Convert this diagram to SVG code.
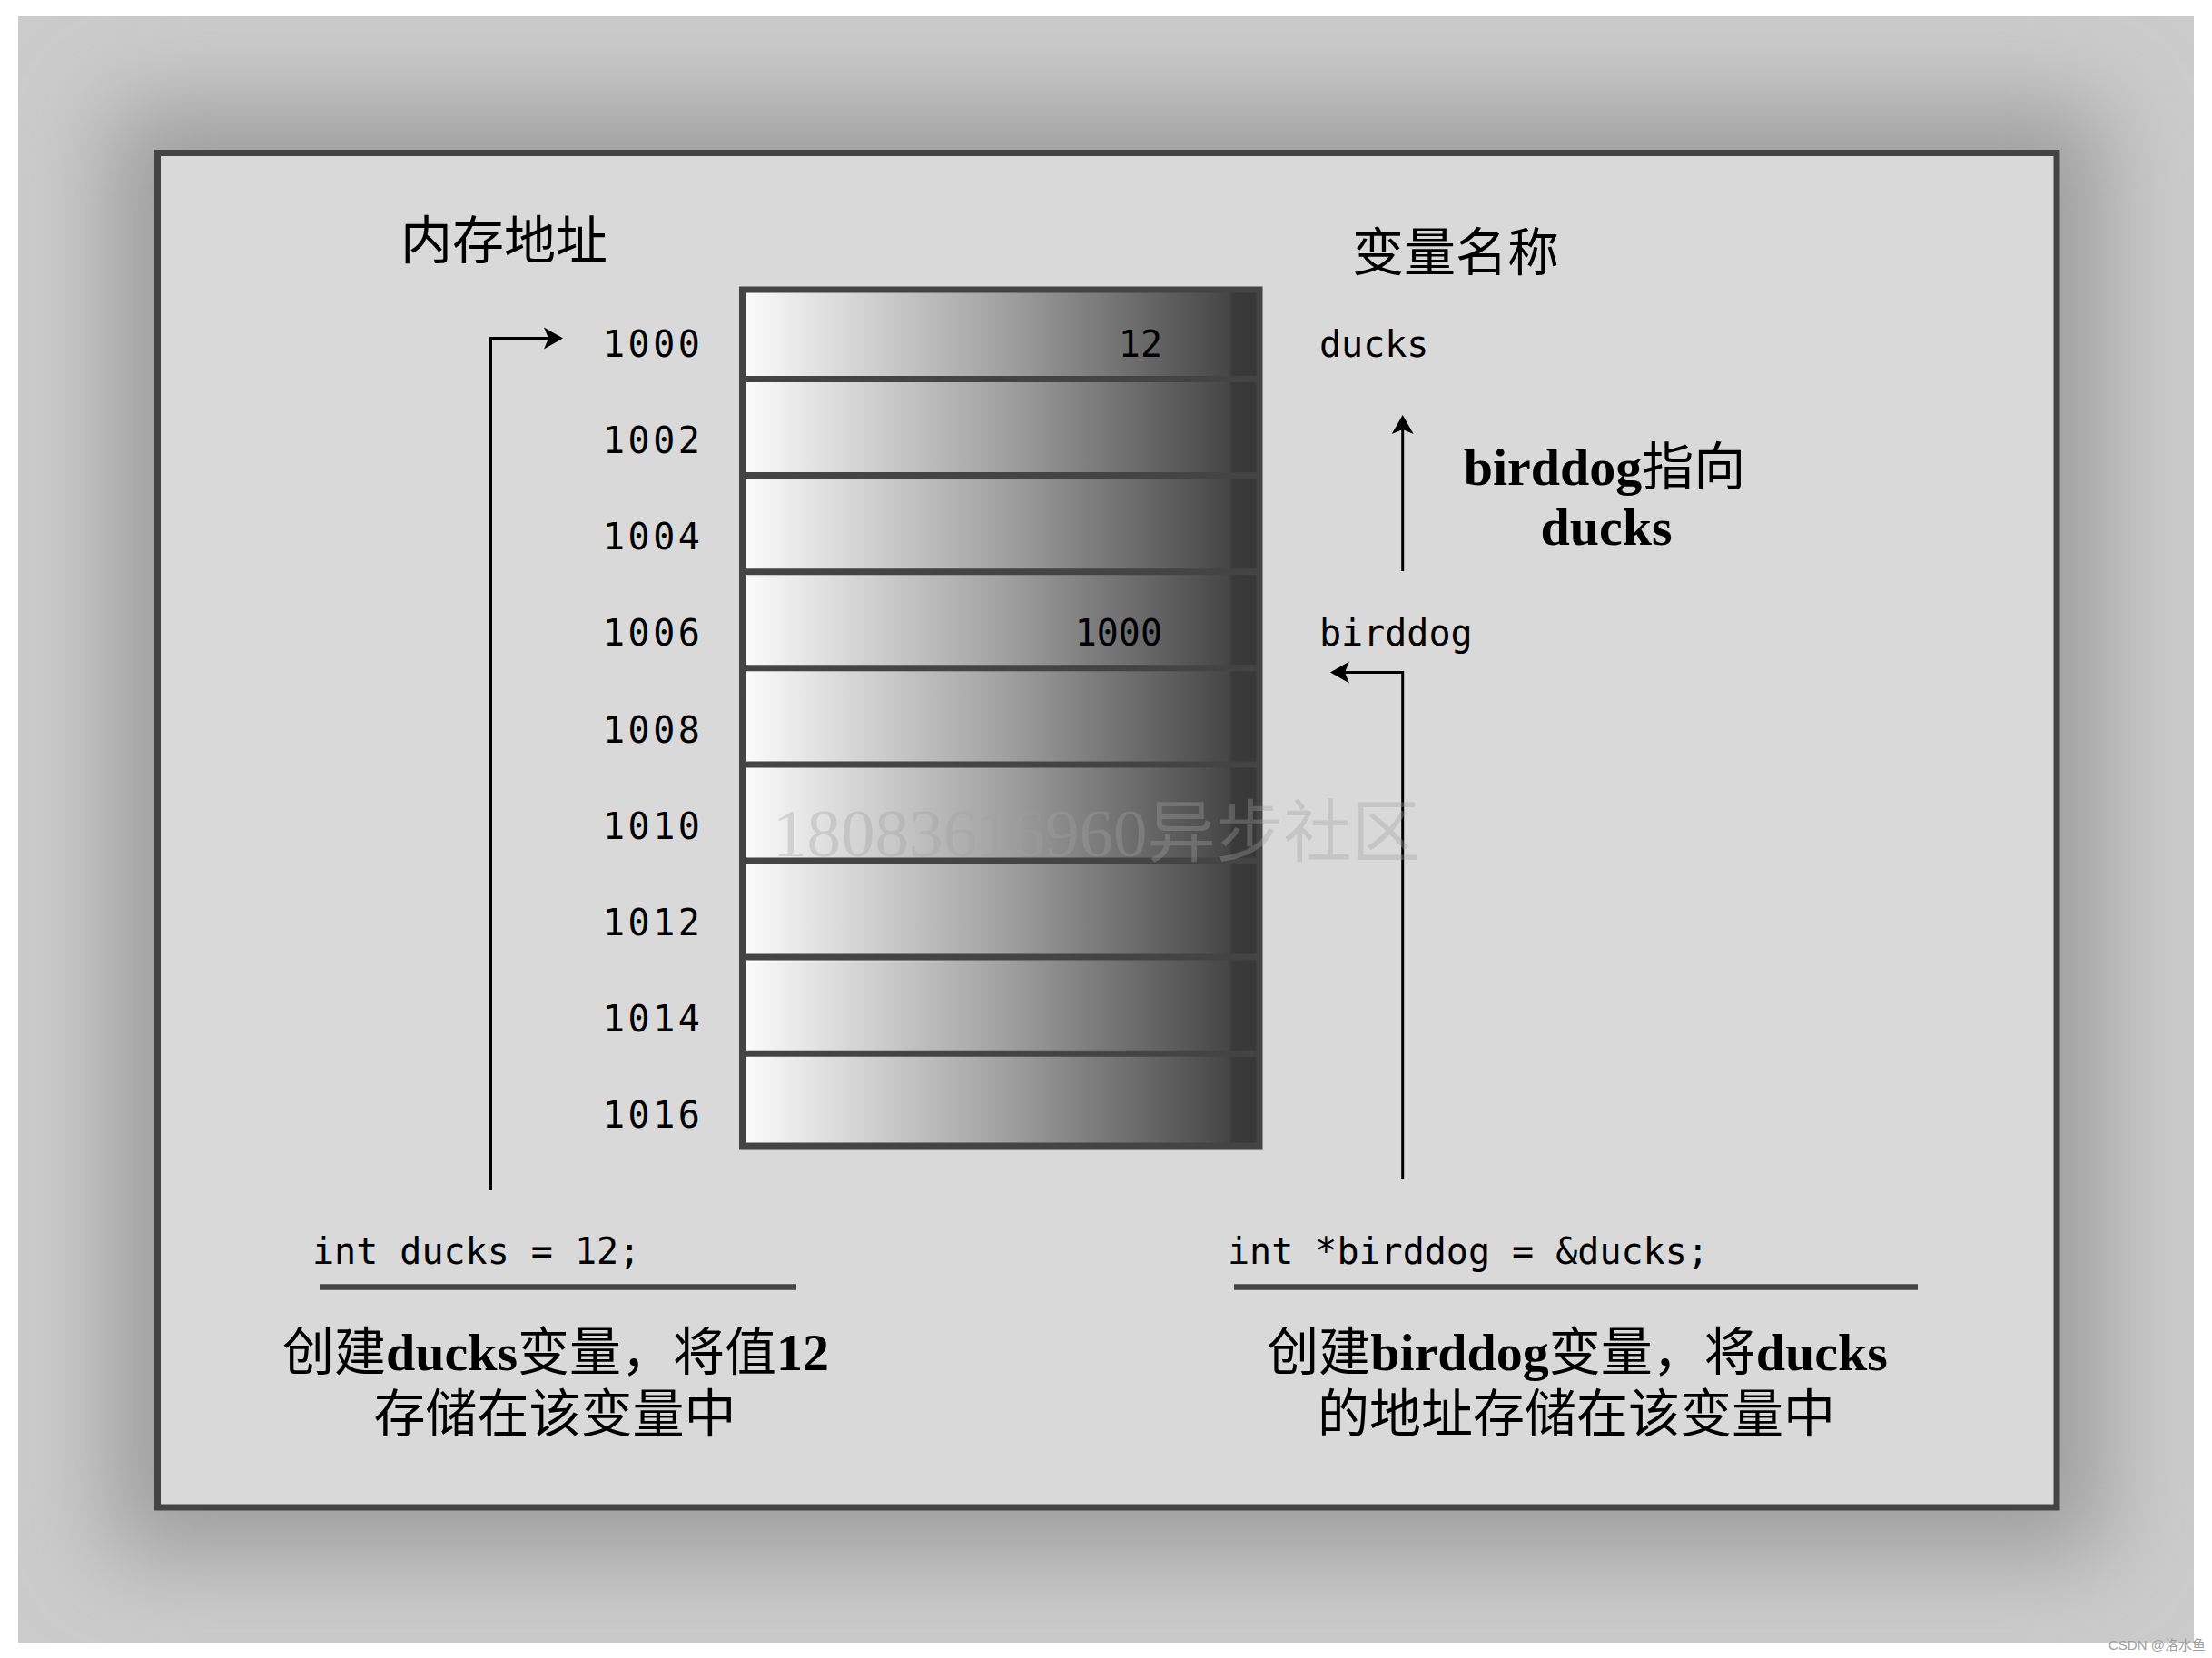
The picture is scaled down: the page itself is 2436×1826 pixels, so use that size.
<svg xmlns="http://www.w3.org/2000/svg" width="2436" height="1826" viewBox="0 0 2436 1826">
<style>
.mono{font-family:"DejaVu Sans Mono","Liberation Mono",monospace;font-size:40px;fill:#000}
.addr{letter-spacing:3.5px}
.cjk{font-family:"Noto Sans CJK SC","Noto Sans CJK TC",sans-serif;font-size:57px;fill:#000}
.cap{font-family:"Liberation Serif","Noto Sans CJK SC",serif;font-size:57px;fill:#000}
.lb{font-family:"Liberation Serif",serif;font-weight:bold;font-size:58px}
.grid{stroke:#444;stroke-width:7;fill:none}
.conn{stroke:#000;stroke-width:3;fill:none}
.rule{stroke:#444;stroke-width:6.5}
</style>
<defs>
<clipPath id="outerClip"><rect x="20" y="18" width="2396" height="1791"/></clipPath>
<filter id="blur" x="-20%" y="-20%" width="140%" height="140%"><feGaussianBlur stdDeviation="50"/></filter>
<linearGradient id="cellGrad" gradientUnits="userSpaceOnUse" x1="821" y1="0" x2="1384" y2="0">
<stop offset="0" stop-color="#fbfbfb"/>
<stop offset="0.5" stop-color="#a2a2a2"/>
<stop offset="0.945" stop-color="#464646"/>
<stop offset="0.952" stop-color="#3a3a3a"/>
<stop offset="1" stop-color="#383838"/>
</linearGradient>
<marker id="arrow" markerUnits="userSpaceOnUse" markerWidth="22" markerHeight="24" refX="13" refY="12" orient="auto" overflow="visible">
<path d="M0,0 L21,12 L0,24 L5,12 Z" fill="#000"/>
</marker>
</defs>
<rect width="2436" height="1826" fill="#ffffff"/>
<g id="backdrop" clip-path="url(#outerClip)">
<rect x="20" y="18" width="2396" height="1791" fill="#cbcbcb"/>
<rect x="120" y="115" width="2199" height="1599" fill="#9e9e9e" filter="url(#blur)"/>
</g>
<g id="panel">
<rect x="173.5" y="168.5" width="2091.5" height="1491.5" fill="#d9d9d9" stroke="#444" stroke-width="7"/>
</g>
<g id="title-addr"><text class="cjk" x="441" y="285">内存地址</text></g>
<g id="title-var"><text class="cjk" x="1489" y="298">变量名称</text></g>
<g id="memory-column">
<rect x="817.5" y="319" width="569.5" height="943" fill="url(#cellGrad)"/>
<g class="grid">
<rect x="817.5" y="319" width="569.5" height="943"/>
<line x1="821" y1="417.5" x2="1384" y2="417.5"/>
<line x1="821" y1="523.6" x2="1384" y2="523.6"/>
<line x1="821" y1="629.7" x2="1384" y2="629.7"/>
<line x1="821" y1="735.8" x2="1384" y2="735.8"/>
<line x1="821" y1="841.9" x2="1384" y2="841.9"/>
<line x1="821" y1="948" x2="1384" y2="948"/>
<line x1="821" y1="1054.1" x2="1384" y2="1054.1"/>
<line x1="821" y1="1160.2" x2="1384" y2="1160.2"/>
</g>
<text class="mono" x="1280" y="393" text-anchor="end">12</text>
<text class="mono" x="1280" y="711" text-anchor="end">1000</text>
</g>
<g id="addresses" class="mono addr">
<text x="664" y="393">1000</text>
<text x="664" y="499">1002</text>
<text x="664" y="605">1004</text>
<text x="664" y="711">1006</text>
<text x="664" y="818">1008</text>
<text x="664" y="924">1010</text>
<text x="664" y="1030">1012</text>
<text x="664" y="1136">1014</text>
<text x="664" y="1242">1016</text>
</g>
<g id="var-ducks"><text class="mono" x="1453" y="393">ducks</text></g>
<g id="var-birddog"><text class="mono" x="1453" y="711">birddog</text></g>
<g id="label-points" class="cap" text-anchor="middle">
<text x="1767" y="534"><tspan class="lb">birddog</tspan>指向</text>
<text x="1769" y="600"><tspan class="lb">ducks</tspan></text>
</g>
<g id="code-ducks">
<text class="mono" x="344" y="1392">int ducks = 12;</text>
<line class="rule" x1="352" y1="1417.5" x2="877" y2="1417.5"/>
<text class="cap" x="612" y="1509" text-anchor="middle">创建<tspan class="lb">ducks</tspan>变量，将值<tspan class="lb">12</tspan></text>
<text class="cap" x="611" y="1577" text-anchor="middle">存储在该变量中</text>
</g>
<g id="code-birddog">
<text class="mono" x="1352" y="1392">int *birddog = &amp;ducks;</text>
<line class="rule" x1="1359" y1="1417.5" x2="2112" y2="1417.5"/>
<text class="cap" x="1737" y="1509" text-anchor="middle">创建<tspan class="lb">birddog</tspan>变量，将<tspan class="lb">ducks</tspan></text>
<text class="cap" x="1736" y="1577" text-anchor="middle">的地址存储在该变量中</text>
</g>
<g id="connectors">
<path class="conn" d="M540.5,1311 V372.5 H612" marker-end="url(#arrow)"/>
<path class="conn" d="M1544.7,629 V465" marker-end="url(#arrow)"/>
<path class="conn" d="M1544.7,1298 V740.5 H1473" marker-end="url(#arrow)"/>
</g>
<g id="watermark">
<text x="851" y="943" font-family="Liberation Serif,'Noto Sans CJK SC',serif" font-size="75" fill="#a0a0a0" fill-opacity="0.35">18083616960异步社区</text>
<text x="2322" y="1817" font-family="Liberation Sans,'Noto Sans CJK SC',sans-serif" font-size="15" fill="#a0a0a0">CSDN @洛水鱼</text>
</g>
</svg>
